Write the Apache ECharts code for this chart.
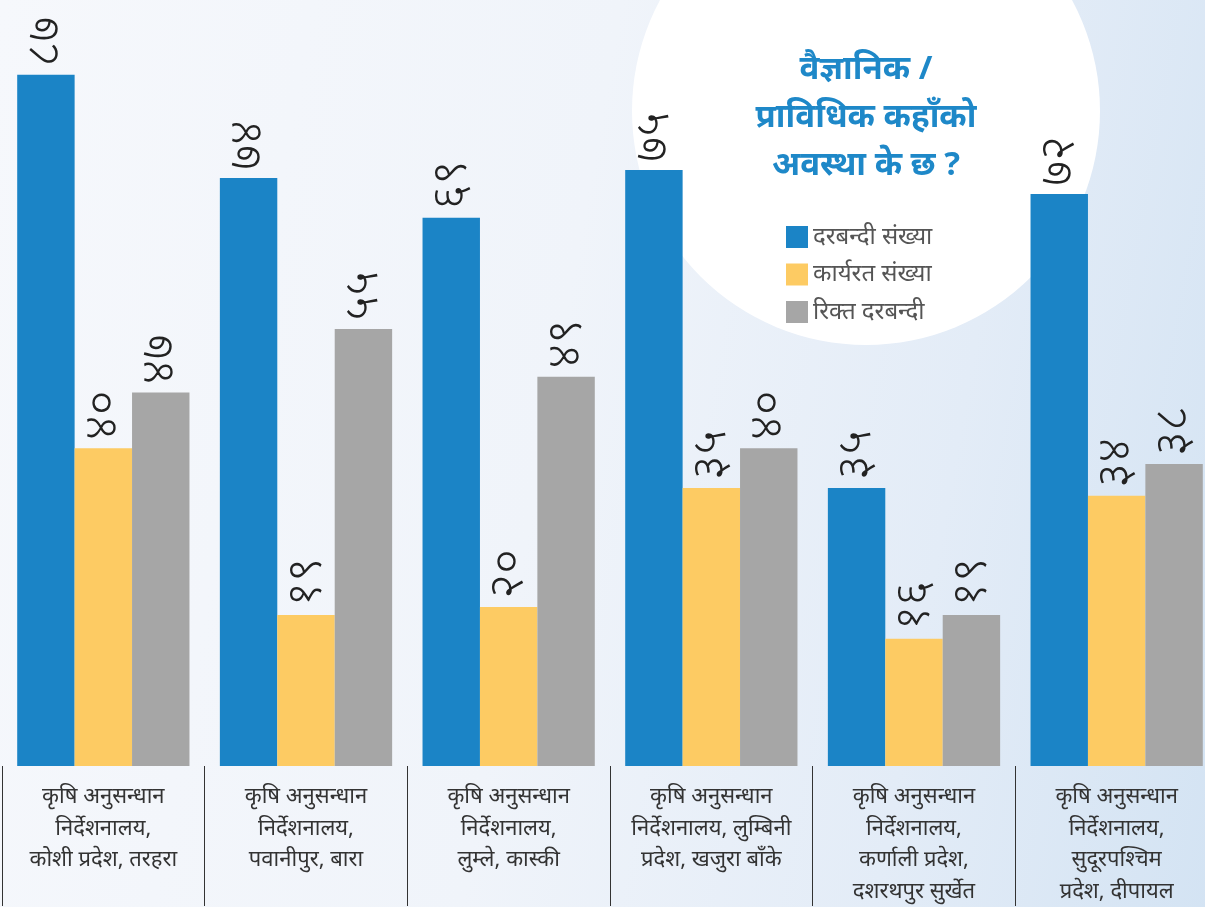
<!DOCTYPE html>
<html>
<head>
<meta charset="utf-8">
<script src="https://cdn.jsdelivr.net/npm/echarts@6/dist/echarts.min.js"></script>
<style>
html,body{margin:0;padding:0;overflow:hidden;width:1205px;height:907px;background:#eef3fa;}
#c{width:1220px;height:907px;background:linear-gradient(100deg,#f6f8fc 0%,#f0f4fa 45%,#e3ecf7 75%,#d3e3f3 100%);}
</style>
</head>
<body>
<div id="c"></div>
<script>
var categories = [
  'कृषि अनुसन्धान\nनिर्देशनालय,\nकोशी प्रदेश, तरहरा',
  'कृषि अनुसन्धान\nनिर्देशनालय,\nपवानीपुर, बारा',
  'कृषि अनुसन्धान\nनिर्देशनालय,\nलुम्ले, कास्की',
  'कृषि अनुसन्धान\nनिर्देशनालय, लुम्बिनी\nप्रदेश, खजुरा बाँके',
  'कृषि अनुसन्धान\nनिर्देशनालय,\nकर्णाली प्रदेश,\nदशरथपुर सुर्खेत',
  'कृषि अनुसन्धान\nनिर्देशनालय,\nसुदूरपश्चिम\nप्रदेश, दीपायल'
];
var seriesNames = ['दरबन्दी संख्या', 'कार्यरत संख्या', 'रिक्त दरबन्दी'];
var sanctioned = [87, 74, 69, 75, 35, 72];
var working = [40, 19, 20, 35, 16, 34];
var vacant = [47, 55, 49, 40, 19, 38];
var titleLines = ['वैज्ञानिक /', 'प्राविधिक कहाँको', 'अवस्था के छ ?'];

var digits = '०१२३४५६७८९';
function toNep(v){ return String(v).replace(/[0-9]/g, function(d){ return digits[+d]; }); }

var colors = ['#1b84c6', '#fdcb63', '#a6a6a6'];
var font = "'Noto Sans', 'Noto Sans Devanagari', 'Lohit Devanagari', sans-serif";

function mk(i, data){
  return {
    name: seriesNames[i], type: 'bar', data: data, barGap: '0%', barCategoryGap: '15%',
    itemStyle: { color: colors[i] },
    label: { show: true, position: 'top', rotate: 90, align: 'left', verticalAlign: 'middle',
      distance: 8, fontSize: 48, fontWeight: 300, color: '#222', fontFamily: font,
      formatter: function(p){ return toNep(p.value); } }
  };
}

var chart = echarts.init(document.getElementById('c'));
var graphics = [
  { type: 'circle', z: -1, shape: { cx: 866, cy: 111, r: 234 }, style: { fill: '#ffffff' } }
];
var ty = [70, 118, 166];
for (var k = 0; k < titleLines.length; k++) {
  graphics.push({ type: 'text', z: 5, x: 866, y: ty[k],
    style: { text: titleLines[k], fill: '#1e88c8', font: 'bold 33px ' + font, textAlign: 'center', textVerticalAlign: 'middle' } });
}
chart.setOption({
  animation: false,
  textStyle: { fontFamily: font },
  graphic: graphics,
  legend: {
    orient: 'vertical', left: 781, top: 220, itemWidth: 22, itemHeight: 22, itemGap: 13.5,
    icon: 'rect', data: seriesNames,
    textStyle: { fontSize: 24, lineHeight: 22, color: '#555', fontFamily: font }
  },
  grid: { left: 2, right: 2, top: 0, bottom: 140, containLabel: false },
  xAxis: {
    type: 'category', data: categories, boundaryGap: true,
    axisLine: { show: false },
    axisTick: { show: true, length: 140, lineStyle: { color: '#333', width: 1 } },
    axisLabel: { interval: 0, margin: 15, fontSize: 22, lineHeight: 31.5, color: '#333', fontFamily: font, verticalAlign: 'top', align: 'center' }
  },
  yAxis: { type: 'value', min: 0, max: 96.4, show: false, splitLine: { show: false } },
  series: [mk(0, sanctioned), mk(1, working), mk(2, vacant)]
});
</script>
</body>
</html>
